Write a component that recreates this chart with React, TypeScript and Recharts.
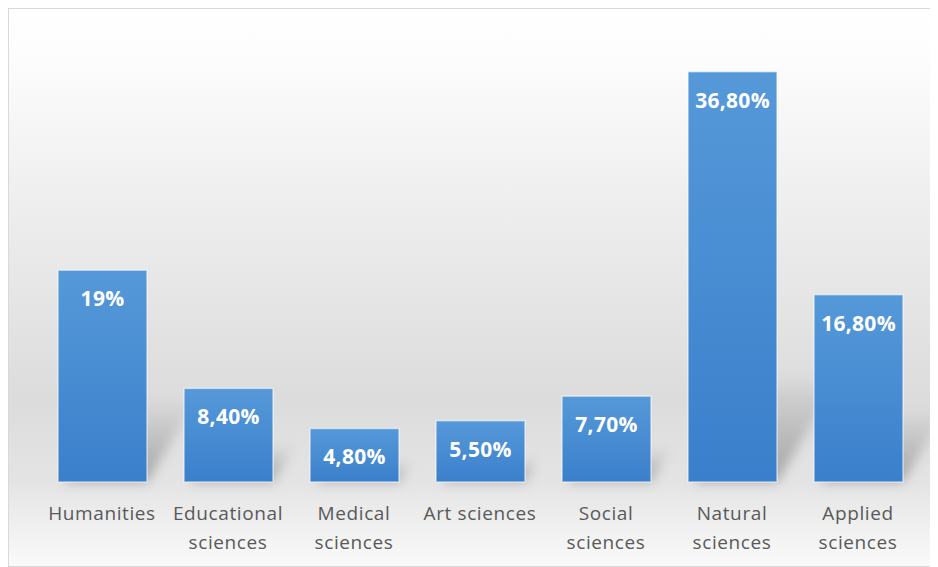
import { BarChart, Bar, XAxis, YAxis, LabelList } from "recharts";

// Share of publications by field
const categories = [
  "Humanities",
  "Educational sciences",
  "Medical sciences",
  "Art sciences",
  "Social sciences",
  "Natural sciences",
  "Applied sciences",
];
const shares = [19, 8.4, 4.8, 5.5, 7.7, 36.8, 16.8];
const shareLabels = ["19%", "8,40%", "4,80%", "5,50%", "7,70%", "36,80%", "16,80%"];

const data = categories.map((name, i) => ({ name, share: shares[i], label: shareLabels[i] }));

const FONT = "'Open Sans', 'DejaVu Sans', sans-serif";

// bar with a soft perspective shadow falling up and to the right
const ShadowBar = (props: any) => {
  const { x, y, width, height } = props;
  if (!height || height <= 0) return null;
  const base = y + height;
  const hs = Math.min(height * 0.4, 110);
  const dx = hs * 0.6;
  const d = `M${x + 6},${base} L${x + width},${base} L${x + width + dx},${base - hs} L${x + 6 + dx},${base - hs} Z`;
  return (
    <g>
      <path d={d} fill="url(#shadowGrad)" filter="url(#shadowBlur)" />
      <rect x={x} y={y} width={width} height={height} fill="url(#barGrad)" stroke="rgba(255,255,255,0.55)" strokeWidth={1.5} />
    </g>
  );
};

const CategoryTick = (props: any) => {
  const { x, y, payload } = props;
  const name: string = payload.value;
  const lines = name.length > 12 ? name.split(" ") : [name];
  return (
    <text x={x} y={y} textAnchor="middle" fill="#595959" fontSize={19} letterSpacing={0.6} fontFamily={FONT}>
      {lines.map((l, i) => (
        <tspan key={i} x={x} dy={i === 0 ? 38 : 29}>
          {l}
        </tspan>
      ))}
    </text>
  );
};

export default function App() {
  return (
    <div
      style={{
        width: 926,
        height: 557,
        border: "1px solid #d9d9d9",
        background:
          "linear-gradient(to bottom, #ffffff 0%, #fcfcfc 10%, #efefef 33%, #dcdcdc 70%, #e4e4e4 85%, #fafafa 100%)",
      }}
    >
      <BarChart
        width={926}
        height={557}
        data={data}
        margin={{ top: 27, right: 14, bottom: 24, left: 30 }}
        barSize={89}
      >
        <defs>
          <linearGradient id="barGrad" x1="0" y1="0" x2="0" y2="1">
            <stop offset="0%" stopColor="#5699d9" />
            <stop offset="100%" stopColor="#3a7fcb" />
          </linearGradient>
          <linearGradient id="shadowGrad" x1="0" y1="1" x2="0" y2="0">
            <stop offset="0%" stopColor="#000" stopOpacity={0.28} />
            <stop offset="100%" stopColor="#000" stopOpacity={0} />
          </linearGradient>
          <filter id="shadowBlur" x="-50%" y="-50%" width="200%" height="200%">
            <feGaussianBlur stdDeviation="6" />
          </filter>
        </defs>
        <XAxis
          dataKey="name"
          axisLine={false}
          tickLine={false}
          tickSize={0}
          tickMargin={0}
          interval={0}
          height={60}
          tick={<CategoryTick />}
        />
        <YAxis hide domain={[0, 40]} />
        <Bar dataKey="share" shape={<ShadowBar />} isAnimationActive={false}>
          <LabelList
            dataKey="label"
            position="insideTop"
            offset={21}
            fill="#ffffff"
            fontSize={21}
            letterSpacing={0.3}
            fontWeight="bold"
            fontFamily={FONT}
          />
        </Bar>
      </BarChart>
    </div>
  );
}
